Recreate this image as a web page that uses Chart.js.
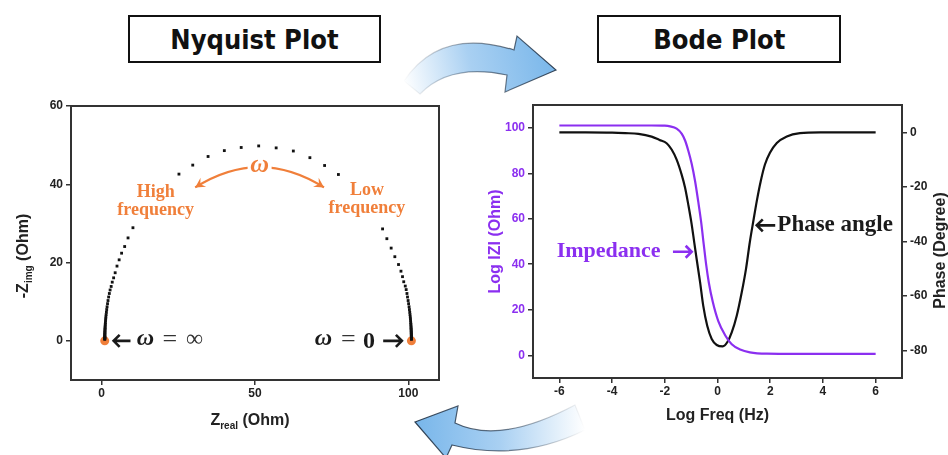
<!DOCTYPE html>
<html>
<head>
<meta charset="utf-8">
<script src="https://cdn.jsdelivr.net/npm/chart.js@4.4.1/dist/chart.umd.min.js"></script>
<style>
  html, body { margin: 0; padding: 0; background: #fff; }
  body { width: 948px; height: 455px; position: relative; overflow: hidden; font-family: "Liberation Sans", Arial, sans-serif; }
  .box { position: absolute; top: 15px; height: 44px; border: 2px solid #111; background: #fff;
         display: flex; align-items: center; justify-content: center;
         font-family: "DejaVu Sans", sans-serif; font-weight: bold; font-size: 27px; color: #111; }
  .box span { display: inline-block; transform: scaleX(0.9); }
  #nyqBox { left: 128px; width: 249px; }
  #bodeBox { left: 597px; width: 240px; }
  #nyqWrap { position: absolute; left: 0; top: 90px; }
  #bodeWrap { position: absolute; left: 470px; top: 90px; }
  #arrows { position: absolute; left: 0; top: 0; pointer-events: none; }
</style>
</head>
<body>
<div class="box" id="nyqBox"><span>Nyquist Plot</span></div>
<div class="box" id="bodeBox"><span>Bode Plot</span></div>
<div id="nyqWrap"><canvas id="nyq" width="470" height="365"></canvas></div>
<div id="bodeWrap"><canvas id="bode" width="478" height="365"></canvas></div>
<svg id="arrows" width="948" height="455">
  <defs>
    <linearGradient id="gTop" gradientUnits="userSpaceOnUse" x1="405" y1="90" x2="556" y2="55">
      <stop offset="0" stop-color="#ffffff"/>
      <stop offset="0.45" stop-color="#a9d0f2"/>
      <stop offset="1" stop-color="#78b6ea"/>
    </linearGradient>
    <linearGradient id="gTopEdge" gradientUnits="userSpaceOnUse" x1="405" y1="90" x2="556" y2="55">
      <stop offset="0" stop-color="#1d2d40" stop-opacity="0"/>
      <stop offset="0.5" stop-color="#1d2d40" stop-opacity="0.5"/>
      <stop offset="1" stop-color="#1d2d40" stop-opacity="0.9"/>
    </linearGradient>
    <linearGradient id="gBot" gradientUnits="userSpaceOnUse" x1="415" y1="425" x2="585" y2="425">
      <stop offset="0" stop-color="#78b6ea"/>
      <stop offset="0.5" stop-color="#a9d0f2"/>
      <stop offset="1" stop-color="#ffffff"/>
    </linearGradient>
    <linearGradient id="gBotEdge" gradientUnits="userSpaceOnUse" x1="415" y1="425" x2="585" y2="425">
      <stop offset="0" stop-color="#1d2d40" stop-opacity="0.9"/>
      <stop offset="0.55" stop-color="#1d2d40" stop-opacity="0.6"/>
      <stop offset="1" stop-color="#1d2d40" stop-opacity="0"/>
    </linearGradient>
  </defs>
  <path d="M 556 70 L 505 92 L 507 75 Q 450 63 420 94 L 404 81 Q 440 27 514 50 L 517 36 Z"
        fill="url(#gTop)" stroke="url(#gTopEdge)" stroke-width="1.2"/>
  <path d="M 415 422 L 458 406 L 455 423 Q 500 445 575 405 L 585 430 Q 520 462 452 445 L 446 458 Z"
        fill="url(#gBot)" stroke="url(#gBotEdge)" stroke-width="1.2"/>
</svg>

<script>
// Nyquist plot: semicircle points (Z real, -Z imag)
const nyqReal = [
  1.00, 1.00, 1.00, 1.00, 1.01, 1.01, 1.01, 1.02, 1.02, 1.03, 1.04, 1.05, 1.06, 1.08, 1.10, 1.12,
  1.14, 1.18, 1.21, 1.26, 1.31, 1.37, 1.45, 1.54, 1.64, 1.76, 1.91, 2.07, 2.27,
  2.5, 2.75, 3.1, 3.45, 3.9, 4.4, 5.0, 5.7, 6.5, 7.5, 8.6, 10.2,
  25.2, 29.7, 34.7, 40.0, 45.5, 51.2, 56.9, 62.5, 67.9, 72.7, 77.2,
  91.6, 93.0, 94.4, 95.6, 96.8, 97.6, 98.1, 98.5, 99.0, 99.3, 99.55,
  99.73, 99.93, 100.09, 100.24, 100.36, 100.46, 100.55, 100.63, 100.69, 100.74, 100.79, 100.82,
  100.86, 100.88, 100.90, 100.92, 100.94, 100.95, 100.96, 100.97, 100.98, 100.98, 100.99, 100.99,
  101.0, 101.0, 101.0, 101.0
];
const nyqImag = [
  0.4, 0.5, 0.6, 0.7, 0.8, 0.9, 1.1, 1.3, 1.5, 1.7, 2.0, 2.2, 2.5, 2.8, 3.1, 3.4,
  3.8, 4.2, 4.6, 5.1, 5.6, 6.1, 6.7, 7.3, 8.0, 8.7, 9.5, 10.3, 11.2,
  12.1, 13.0, 13.9, 15.0, 16.1, 17.4, 19.1, 20.7, 22.4, 24.1, 26.3, 28.9,
  42.6, 44.9, 47.1, 48.6, 49.4, 49.8, 49.3, 48.5, 46.8, 44.8, 42.5,
  28.6, 26.1, 23.7, 21.5, 19.5, 17.8, 16.4, 15.1, 14.0, 13.1, 12.1,
  11.2, 10.3, 9.5, 8.7, 8.0, 7.3, 6.7, 6.1, 5.6, 5.1, 4.6, 4.2,
  3.8, 3.4, 3.1, 2.8, 2.5, 2.2, 2.0, 1.7, 1.5, 1.3, 1.1, 0.9,
  0.7, 0.6, 0.5, 0.4
];
const nyqEndReal = [1, 101];
const nyqEndImag = [0, 0];
const nyqXTicks = [0, 50, 100];
const nyqYTicks = [0, 20, 40, 60];

// Bode plot: log|Z| and phase against log frequency
const impFreq = [-6, -4, -2.5, -2.0, -1.8, -1.55, -1.36, -1.23, -1.11, -0.98, -0.85, -0.73, -0.62, -0.52,
  -0.43, -0.33, -0.18, 0.03, 0.29, 0.54, 0.86, 1.23, 1.87, 3, 6];
const impedance = [101, 101, 101, 100.9, 100.6, 99.6, 97.4, 94.4, 90.0, 84.2, 76.5, 67.5, 58.5, 48.5,
  39.8, 32.0, 23.5, 15.0, 8.8, 4.8, 2.5, 1.3, 0.7, 0.6, 0.6];
const phaseFreq = [-6, -5, -4, -3.5, -3, -2.5, -2.2, -1.93, -1.74, -1.55, -1.36, -1.23, -1.11, -0.98,
  -0.88, -0.79, -0.66, -0.54, -0.39, -0.22, -0.03, 0.2, 0.37, 0.54, 0.73, 0.92, 1.08, 1.23, 1.36,
  1.49, 1.64, 1.8, 1.99, 2.25, 2.63, 3.13, 3.9, 5, 6];
const phaseAngle = [0, 0, -0.1, -0.3, -0.6, -1.6, -2.8, -4.0, -6.3, -10.0, -15.5, -20.3, -26.4, -33.7,
  -40.5, -46.5, -55.0, -63.6, -70.9, -75.7, -77.9, -78.4, -76.9, -73.3, -67.2, -58.6, -50.1, -40.0, -32.5,
  -25.2, -17.9, -11.8, -7.5, -3.9, -1.5, -0.3, 0, 0, 0];
const bodeXTicks = [-6, -4, -2, 0, 2, 4, 6];
const bodeLeftTicks = [0, 20, 40, 60, 80, 100];
const bodeRightTicks = [0, -20, -40, -60, -80];

const PURPLE = '#8b2ff0';
const ORANGE = '#f07f3a';
const INK = '#1a1a1a';
const SANS = '"Liberation Sans", Arial, sans-serif';
const SERIF = '"Liberation Serif", "Times New Roman", serif';

function tickList(values) {
  return (scale) => { scale.ticks = values.map((v) => ({ value: v })); };
}

function axis(min, max, ticks, opts) {
  return {
    type: 'linear',
    min,
    max,
    position: opts.position,
    afterBuildTicks: tickList(ticks),
    afterFit: opts.fit,
    grid: { drawOnChartArea: false, drawTicks: true, tickLength: 5, color: '#333', lineWidth: 1.5 },
    border: { display: true, color: '#333', width: 2 },
    ticks: {
      color: opts.color || '#222',
      font: { family: SANS, weight: 'bold', size: 12 },
      padding: opts.padding,
      maxRotation: 0,
      autoSkip: false,
    },
  };
}

function drawRuns(ctx, runs, x, y) {
  let w = 0;
  runs.forEach((r) => { ctx.font = r[1]; w += ctx.measureText(r[0]).width; });
  let cx = x - w / 2;
  runs.forEach((r) => {
    ctx.font = r[1];
    ctx.fillText(r[0], cx, y + r[2]);
    cx += ctx.measureText(r[0]).width;
  });
}

function lineArrow(ctx, x0, y, x1, head) {
  const dir = Math.sign(x1 - x0);
  ctx.beginPath();
  ctx.moveTo(x0, y);
  ctx.lineTo(x1, y);
  ctx.moveTo(x1 - dir * head, y - head);
  ctx.lineTo(x1, y);
  ctx.lineTo(x1 - dir * head, y + head);
  ctx.stroke();
}

function solidHead(ctx, x, y, ang, size) {
  ctx.beginPath();
  ctx.moveTo(x, y);
  ctx.lineTo(x - size * Math.cos(ang - 0.5), y - size * Math.sin(ang - 0.5));
  ctx.lineTo(x - size * 0.55 * Math.cos(ang), y - size * 0.55 * Math.sin(ang));
  ctx.lineTo(x - size * Math.cos(ang + 0.5), y - size * Math.sin(ang + 0.5));
  ctx.closePath();
  ctx.fill();
}

const nyqDecor = {
  id: 'nyqDecor',
  afterDraw(chart) {
    const { ctx, chartArea: a, scales } = chart;
    const sx = (v) => scales.x.getPixelForValue(v);
    const sy = (v) => scales.y.getPixelForValue(v);
    ctx.save();
    ctx.strokeStyle = '#333';
    ctx.lineWidth = 2;
    ctx.strokeRect(a.left, a.top, a.right - a.left, a.bottom - a.top);

    // axis titles
    ctx.fillStyle = '#222';
    ctx.textAlign = 'left';
    ctx.textBaseline = 'alphabetic';
    const big = `bold 16px ${SANS}`;
    const small = `bold 10px ${SANS}`;
    drawRuns(ctx, [['Z', big, 0], ['real', small, 4], [' (Ohm)', big, 0]], (a.left + a.right) / 2 - 5, a.bottom + 45);
    ctx.save();
    ctx.translate(a.left - 43, (a.top + a.bottom) / 2 + 13);
    ctx.rotate(-Math.PI / 2);
    drawRuns(ctx, [['-Z', big, 0], ['img', small, 4], [' (Ohm)', big, 0]], 0, 0);
    ctx.restore();

    // frequency labels
    ctx.fillStyle = ORANGE;
    ctx.textAlign = 'center';
    ctx.textBaseline = 'middle';
    ctx.font = `bold 18px ${SERIF}`;
    ctx.fillText('High', sx(17.6), sy(37.9));
    ctx.fillText('frequency', sx(17.6), sy(33.3));
    ctx.fillText('Low', sx(86.5), sy(38.5));
    ctx.fillText('frequency', sx(86.5), sy(33.8));

    // curved double arrow with omega
    const p0x = sx(30.5), p0y = sy(39.2), p2x = sx(72.5), p2y = sy(39.2);
    const peak = sy(44.4);
    const cxp = (p0x + p2x) / 2, cyp = 2 * peak - p0y;
    ctx.strokeStyle = ORANGE;
    ctx.lineWidth = 2.2;
    ctx.beginPath();
    ctx.moveTo(p0x, p0y);
    ctx.quadraticCurveTo(cxp, cyp, p2x, p2y);
    ctx.stroke();
    solidHead(ctx, p0x, p0y, Math.atan2(p0y - cyp, p0x - cxp), 11);
    solidHead(ctx, p2x, p2y, Math.atan2(p2y - cyp, p2x - cxp), 11);
    ctx.fillStyle = '#fff';
    ctx.fillRect(cxp - 12, peak - 12, 24, 20);
    ctx.fillStyle = ORANGE;
    ctx.font = `bold italic 26px ${SERIF}`;
    ctx.fillText('ω', cxp, peak - 2);

    // limit labels at the axis
    const y0 = sy(0);
    ctx.fillStyle = INK;
    ctx.strokeStyle = INK;
    ctx.lineWidth = 2.6;
    lineArrow(ctx, sx(9.4), y0, sx(3.9), 6);
    lineArrow(ctx, sx(91.8), y0, sx(97.9), 6);
    ctx.font = `bold italic 24px ${SERIF}`;
    ctx.fillText('ω', sx(14.3), y0 - 2);
    ctx.fillText('ω', sx(72.3), y0 - 2);
    ctx.fillStyle = '#333';
    ctx.font = `26px ${SERIF}`;
    ctx.fillText('=', sx(22.2), y0 - 1);
    ctx.fillText('=', sx(80.4), y0 - 1);
    ctx.font = `24px ${SERIF}`;
    ctx.fillText('∞', sx(30.3), y0 - 1);
    ctx.fillStyle = INK;
    ctx.font = `bold 24px ${SERIF}`;
    ctx.fillText('0', sx(87.2), y0 + 1);
    ctx.restore();
  },
};

const bodeDecor = {
  id: 'bodeDecor',
  afterDraw(chart) {
    const { ctx, chartArea: a, scales } = chart;
    const sx = (v) => scales.x.getPixelForValue(v);
    const sy = (v) => scales.yL.getPixelForValue(v);
    ctx.save();
    ctx.strokeStyle = '#333';
    ctx.lineWidth = 2;
    ctx.strokeRect(a.left, a.top, a.right - a.left, a.bottom - a.top);

    ctx.textAlign = 'center';
    ctx.textBaseline = 'alphabetic';
    ctx.font = `bold 16px ${SANS}`;
    ctx.fillStyle = '#222';
    ctx.fillText('Log Freq (Hz)', (a.left + a.right) / 2, a.bottom + 42);
    ctx.save();
    ctx.translate(a.left - 33, (a.top + a.bottom) / 2);
    ctx.rotate(-Math.PI / 2);
    ctx.fillStyle = PURPLE;
    ctx.fillText('Log IZI (Ohm)', 0, 0);
    ctx.restore();
    ctx.save();
    ctx.translate(a.right + 43, (a.top + a.bottom) / 2 + 9);
    ctx.rotate(-Math.PI / 2);
    ctx.fillStyle = '#222';
    ctx.fillText('Phase (Degree)', 0, 0);
    ctx.restore();

    // curve labels
    ctx.textAlign = 'left';
    ctx.textBaseline = 'middle';
    ctx.fillStyle = PURPLE;
    ctx.strokeStyle = PURPLE;
    ctx.font = `bold 22px ${SERIF}`;
    ctx.fillText('Impedance', sx(-6.1), sy(45.7));
    ctx.lineWidth = 2.6;
    lineArrow(ctx, sx(-1.69), sy(45.5), sx(-0.98), 6);
    ctx.fillStyle = INK;
    ctx.strokeStyle = INK;
    ctx.font = `bold 23px ${SERIF}`;
    ctx.fillText('Phase angle', sx(2.27), sy(57.1));
    lineArrow(ctx, sx(2.19), sy(57.1), sx(1.49), 6);
    ctx.restore();
  },
};

new Chart(document.getElementById('nyq'), {
  type: 'scatter',
  data: {
    datasets: [
      {
        data: nyqReal.map((v, i) => ({ x: v, y: nyqImag[i] })),
        pointStyle: 'rect',
        pointRadius: 2,
        backgroundColor: '#111',
        borderWidth: 0,
      },
      {
        data: nyqEndReal.map((v, i) => ({ x: v, y: nyqEndImag[i] })),
        pointRadius: 4.5,
        backgroundColor: ORANGE,
        borderWidth: 0,
      },
    ],
  },
  options: {
    responsive: false,
    animation: false,
    events: [],
    layout: { padding: { left: 0, right: 31, top: 16, bottom: 0 } },
    plugins: { legend: { display: false }, tooltip: { enabled: false } },
    scales: {
      x: axis(-10, 110, nyqXTicks, { position: 'bottom', padding: 1, fit: (s) => { s.height = 75; } }),
      y: axis(-10, 60, nyqYTicks, { position: 'left', padding: 3, fit: (s) => { s.width = 71; } }),
    },
  },
  plugins: [nyqDecor],
});

new Chart(document.getElementById('bode'), {
  type: 'line',
  data: {
    datasets: [
      {
        data: impFreq.map((f, i) => ({ x: f, y: impedance[i] })),
        yAxisID: 'yL',
        borderColor: PURPLE,
        borderWidth: 2.2,
        pointRadius: 0,
        cubicInterpolationMode: 'monotone',
        fill: false,
      },
      {
        data: phaseFreq.map((f, i) => ({ x: f, y: phaseAngle[i] })),
        yAxisID: 'yR',
        borderColor: '#111',
        borderWidth: 2.2,
        pointRadius: 0,
        cubicInterpolationMode: 'monotone',
        fill: false,
      },
    ],
  },
  options: {
    responsive: false,
    animation: false,
    events: [],
    layout: { padding: { left: 0, right: 0, top: 15, bottom: 0 } },
    plugins: { legend: { display: false }, tooltip: { enabled: false } },
    scales: {
      x: axis(-7, 7, bodeXTicks, { position: 'bottom', padding: 1, fit: (s) => { s.height = 77; } }),
      yL: axis(-10, 110, bodeLeftTicks, { position: 'left', padding: 3, color: PURPLE, fit: (s) => { s.width = 63; } }),
      yR: axis(-90, 10, bodeRightTicks, { position: 'right', padding: 3, fit: (s) => { s.width = 46; } }),
    },
  },
  plugins: [bodeDecor],
});
</script>
</body>
</html>
